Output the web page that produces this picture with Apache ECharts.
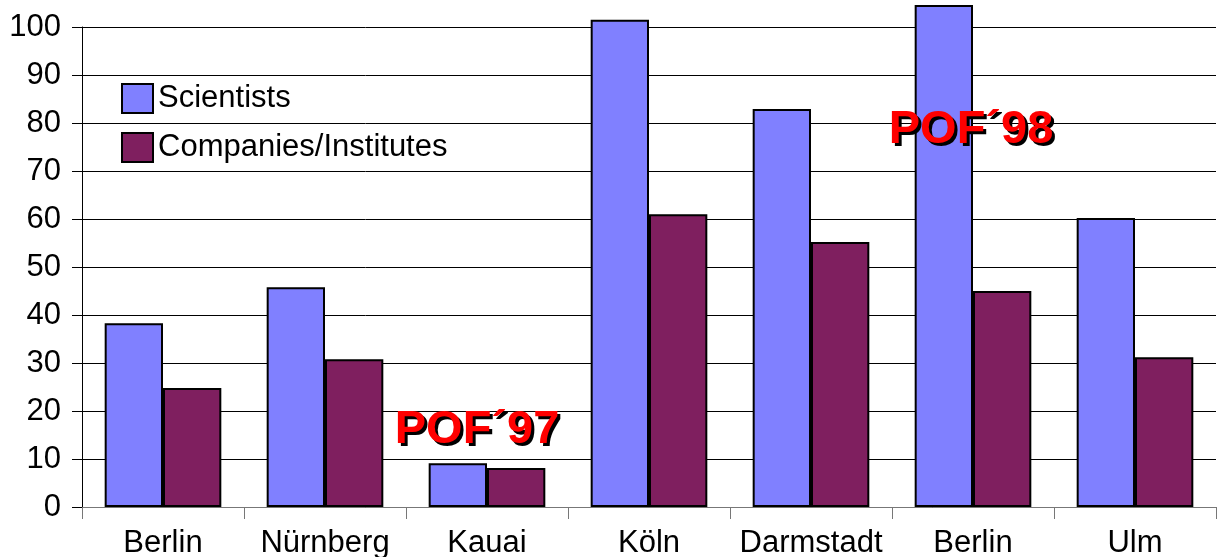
<!DOCTYPE html>
<html>
<head>
<meta charset="utf-8">
<script src="https://cdn.jsdelivr.net/npm/echarts@6/dist/echarts.min.js"></script>
<style>html,body{margin:0;padding:0;background:#fff;}#c{width:1217px;height:557px;}</style>
</head>
<body>
<div id="c"></div>
<script>
const categories = ['Berlin', 'Nürnberg', 'Kauai', 'Köln', 'Darmstadt', 'Berlin', 'Ulm'];
const scientists = [38.3, 45.8, 9.1, 101.5, 82.9, 104.6, 60.2];
const companies = [24.8, 30.8, 8.1, 61.0, 55.2, 45.0, 31.2];
const yTicks = [0, 10, 20, 30, 40, 50, 60, 70, 80, 90, 100];
const annotationTexts = ['POF´97', 'POF´98'];
const annotationCats = [2, 5];
const annotationValues = [16, 78.5];

const FONT = 'Liberation Sans, Arial, sans-serif';
const annotationShiftX = [-10, -2];

function annotationSeries(color, dx, dy) {
  return {
    type: 'scatter', data: [], silent: true,
    markPoint: {
      symbol: 'rect', symbolSize: 0, silent: true,
      label: {
        show: true, position: 'inside',
        fontFamily: FONT, fontSize: 47, fontWeight: 'bold', color: color,
        formatter: p => p.name
      },
      data: annotationTexts.map((t, i) => ({
        name: t, coord: [annotationCats[i], annotationValues[i]],
        label: { offset: [annotationShiftX[i] + dx, dy] }
      }))
    }
  };
}

const chart = echarts.init(document.getElementById('c'));
chart.setOption({
  animation: false,
  backgroundColor: '#fff',
  grid: { left: 82, top: 27, right: 1, bottom: 50, containLabel: false, outerBoundsMode: 'none' },
  legend: {
    orient: 'vertical', left: 116, top: 78,
    itemWidth: 31, itemHeight: 29, itemGap: 18, icon: 'rect',
    textStyle: { fontFamily: FONT, fontSize: 31, color: '#000' },
    data: ['Scientists', 'Companies/Institutes']
  },
  xAxis: {
    type: 'category', data: categories, boundaryGap: true,
    axisLine: { lineStyle: { color: '#777', width: 1 } },
    axisTick: { show: true, length: 12, lineStyle: { color: '#777' } },
    axisLabel: { fontFamily: FONT, fontSize: 31, color: '#000', margin: 21, interval: 0 }
  },
  yAxis: {
    type: 'value', min: yTicks[0], max: yTicks[yTicks.length - 1], interval: 10,
    axisLine: { show: true, lineStyle: { color: '#000', width: 1 } },
    axisTick: { show: true, length: 10, lineStyle: { color: '#000' } },
    axisLabel: { fontFamily: FONT, fontSize: 31, color: '#000', margin: 21 },
    splitLine: { show: true, lineStyle: { color: '#000', width: 1 } }
  },
  series: [
    {
      name: 'Scientists', type: 'bar', data: scientists, clip: false,
      barGap: '0%', barCategoryGap: '28%',
      itemStyle: { color: '#8080ff', borderColor: '#000', borderWidth: 2 }
    },
    {
      name: 'Companies/Institutes', type: 'bar', data: companies, clip: false,
      barGap: '0%', barCategoryGap: '28%',
      itemStyle: { color: '#7f1f5f', borderColor: '#000', borderWidth: 2 }
    },
    annotationSeries('#000', 3, 3),
    annotationSeries('#ff0000', 0, 0)
  ]
});
</script>
</body>
</html>
